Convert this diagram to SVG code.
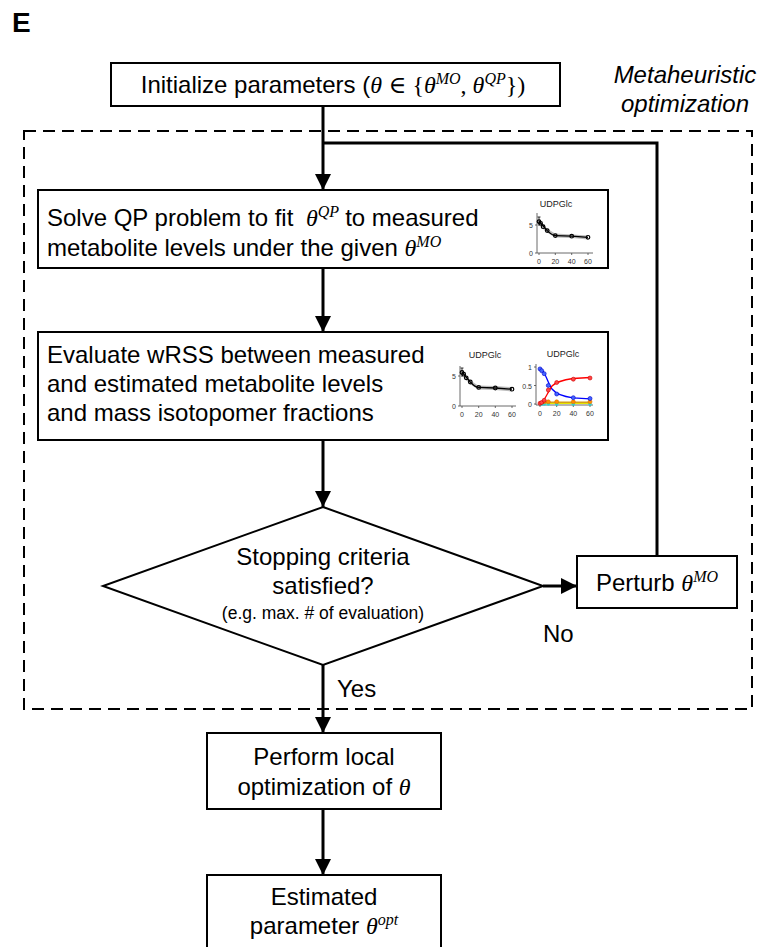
<svg xmlns="http://www.w3.org/2000/svg" width="776" height="947" viewBox="0 0 776 947">
<defs>
<marker id="ah" viewBox="0 0 16 16" refX="16" refY="8" markerWidth="16" markerHeight="16" markerUnits="userSpaceOnUse" orient="auto"><path d="M0,0 L16,8 L0,16 z" fill="#000"/></marker>
<style>
.box{fill:#fff;stroke:#000;stroke-width:2}
.t{font-family:"Liberation Sans",Arial,sans-serif;font-size:24px;fill:#000}
.small{font-size:17.5px}
.m{font-family:"Liberation Serif","DejaVu Serif",serif;font-style:italic}
.mu{font-family:"Liberation Serif","DejaVu Serif",serif}
.sup{font-size:16px}
.con{fill:none;stroke:#000;stroke-width:3}
.ax{fill:none;stroke:#444;stroke-width:0.8}
.tk{font-family:"Liberation Sans",Arial,sans-serif;font-size:7px;fill:#333}
.ttl{font-family:"Liberation Sans",Arial,sans-serif;font-size:9px;fill:#222;text-anchor:middle}
</style>
</defs>
<rect width="776" height="947" fill="#fff"/>
<text x="12" y="32" font-family="Liberation Sans,Arial,sans-serif" font-weight="bold" font-size="28">E</text>

<g id="metaheuristic-region">
<rect x="24" y="131" width="728" height="578" fill="none" stroke="#000" stroke-width="2" stroke-dasharray="12 7"/>
<text class="t" x="685" y="83" text-anchor="middle" font-style="italic">Metaheuristic</text>
<text class="t" x="685" y="112" text-anchor="middle" font-style="italic">optimization</text>
</g>

<g id="connectors">
<path class="con" d="M323,106 V190" marker-end="url(#ah)"/>
<path class="con" d="M323,268 V332" marker-end="url(#ah)"/>
<path class="con" d="M323,440 V507" marker-end="url(#ah)"/>
<path class="con" d="M543,586 H577" marker-end="url(#ah)"/>
<path class="con" d="M323,665 V733" marker-end="url(#ah)"/>
<path class="con" d="M323,809 V875" marker-end="url(#ah)"/>
<path class="con" d="M657,556 V143 H323"/>
<text class="t" x="543" y="642">No</text>
<text class="t" x="337" y="697">Yes</text>
</g>

<g id="init">
<rect class="box" x="111" y="63" width="449" height="43"/>
<text class="t" x="333" y="93" text-anchor="middle">Initialize parameters (<tspan class="m">θ</tspan> <tspan class="mu">∈ {</tspan><tspan class="m">θ</tspan><tspan class="m sup" dy="-9">MO</tspan><tspan class="mu" dy="9">, </tspan><tspan class="m">θ</tspan><tspan class="m sup" dy="-9">QP</tspan><tspan class="mu" dy="9">})</tspan></text>
</g>

<g id="solve-qp">
<rect class="box" x="38" y="190" width="570" height="78"/>
<text class="t" x="47" y="226">Solve QP problem to fit <tspan class="m" dx="6">θ</tspan><tspan class="m sup" dy="-9">QP</tspan><tspan dy="9" dx="6">to measured</tspan></text>
<text class="t" x="47" y="256">metabolite levels under the given <tspan class="m">θ</tspan><tspan class="m sup" dy="-9">MO</tspan></text>
<g id="plotA">
<text class="ttl" x="556" y="207">UDPGlc</text>
<path class="ax" d="M537,213 V253 H593 M535,225 H537 M535,253 H537 M539,253 v2 M555.3,253 v2 M571.7,253 v2 M588,253 v2"/>
<text class="tk" x="533" y="228" text-anchor="end">5</text>
<text class="tk" x="533" y="256" text-anchor="end">0</text>
<g class="tk" text-anchor="middle"><text x="539" y="264">0</text><text x="555.3" y="264">20</text><text x="571.7" y="264">40</text><text x="588" y="264">60</text></g>
<path d="M539,219 L541,221 L543,224 L547,228.5 L555,233.5 L572,234.5 L588,235.5 L588,239.5 L572,238 L555,237.5 L547,232.5 L543,229 L541,225.5 L539,224 z" fill="#bbb"/>
<path d="M539,221.6 C541,223 544,227 547.2,230.6 C550,233.5 552,235.6 555.3,235.6 L571.7,236.2 L588,237.3" fill="none" stroke="#000" stroke-width="1.3"/>
<path d="M539,217 V226 M537.5,217 H540.5" stroke="#000" stroke-width="0.8"/>
<g fill="none" stroke="#000" stroke-width="1.2"><circle cx="539" cy="221.6" r="1.8"/><circle cx="540.6" cy="223.3" r="1.8"/><circle cx="543.1" cy="226.7" r="1.8"/><circle cx="547.2" cy="230.6" r="1.8"/><circle cx="555.3" cy="235.6" r="1.8"/><circle cx="571.7" cy="236.2" r="1.8"/><circle cx="588" cy="237.3" r="1.8"/></g>
</g>
</g>

<g id="evaluate-wrss">
<rect class="box" x="38" y="332" width="570" height="108"/>
<text class="t" x="47" y="363">Evaluate wRSS between measured</text>
<text class="t" x="47" y="392">and estimated metabolite levels</text>
<text class="t" x="47" y="421">and mass isotopomer fractions</text>
<g id="plotB1">
<text class="ttl" x="485" y="358">UDPGlc</text>
<path class="ax" d="M460,366 V406 H516 M458,376 H460 M458,406 H460 M462,406 v2 M478.7,406 v2 M495.3,406 v2 M512,406 v2"/>
<text class="tk" x="456" y="379" text-anchor="end">5</text>
<text class="tk" x="456" y="409" text-anchor="end">0</text>
<g class="tk" text-anchor="middle"><text x="462" y="417">0</text><text x="478.7" y="417">20</text><text x="495.3" y="417">40</text><text x="512" y="417">60</text></g>
<path d="M462,370 L464,372 L466,375.5 L470,380 L478,385.5 L495,386 L512,387 L512,391.5 L495,390 L478,389.5 L470,384 L466,380 L464,376.5 L462,375 z" fill="#bbb"/>
<path d="M462,372.4 C464,374 467,378 470.3,382 C473,385 475.5,387.4 478.7,387.4 L495.3,388 L512,389.2" fill="none" stroke="#000" stroke-width="1.3"/>
<path d="M462,368 V377 M460.5,368 H463.5" stroke="#000" stroke-width="0.8"/>
<g fill="none" stroke="#000" stroke-width="1.2"><circle cx="462" cy="372.4" r="1.8"/><circle cx="463.7" cy="374.2" r="1.8"/><circle cx="466.2" cy="377.8" r="1.8"/><circle cx="470.3" cy="382" r="1.8"/><circle cx="478.7" cy="387.4" r="1.8"/><circle cx="495.3" cy="388" r="1.8"/><circle cx="512" cy="389.2" r="1.8"/></g>
</g>
<g id="plotB2">
<text class="ttl" x="563" y="357">UDPGlc</text>
<path class="ax" d="M536,364 V405 H593 M534,367 H536 M534,385.5 H536 M534,404 H536 M540,405 v2 M556.7,405 v2 M573.3,405 v2 M590,405 v2"/>
<text class="tk" x="532" y="370" text-anchor="end">1</text>
<text class="tk" x="532" y="389" text-anchor="end">0.5</text>
<text class="tk" x="532" y="407" text-anchor="end">0</text>
<g class="tk" text-anchor="middle"><text x="540" y="416">0</text><text x="556.7" y="416">20</text><text x="573.3" y="416">40</text><text x="590" y="416">60</text></g>
<path d="M540,402.5 H590" stroke="#d4a017" stroke-width="2.2" fill="none"/>
<path d="M540,403.5 H590" stroke="#e6e600" stroke-width="1.2" fill="none"/>
<path d="M540,368 C545,370 547,382 552,389 C556,394 562,396.5 573,397.8 L590,398.8" fill="none" stroke="#0000ff" stroke-width="1.3"/>
<path d="M540,404 C545,401 547,393 552,386 C556,382 562,380 573,378.5 L590,377.5" fill="none" stroke="#ff0000" stroke-width="1.3"/>
<g fill="#22dddd"><circle cx="541.7" cy="404" r="1.8"/><circle cx="544.2" cy="404" r="1.8"/><circle cx="548.3" cy="404" r="1.8"/><circle cx="556.7" cy="404" r="1.8"/><circle cx="573.3" cy="404" r="1.8"/><circle cx="590" cy="404" r="1.8"/></g>
<g fill="#ff8c00" stroke="#e07000" stroke-width="0.6"><circle cx="544.2" cy="401.8" r="2"/><circle cx="548.3" cy="401.8" r="2"/><circle cx="556.7" cy="401.8" r="2"/><circle cx="573.3" cy="401.8" r="2"/><circle cx="590" cy="401.8" r="2"/></g>
<g fill="#4466ff" stroke="#0000cc" stroke-width="0.6"><circle cx="540" cy="368.9" r="2"/><circle cx="541.7" cy="370.7" r="2"/><circle cx="544.2" cy="373.7" r="2"/><circle cx="548.3" cy="385.5" r="2"/><circle cx="556.7" cy="394" r="2"/><circle cx="573.3" cy="397.7" r="2"/><circle cx="590" cy="398.5" r="2"/></g>
<g fill="#ff4444" stroke="#cc0000" stroke-width="0.6"><circle cx="540" cy="403.3" r="2"/><circle cx="541.7" cy="402.5" r="2"/><circle cx="544.2" cy="400.3" r="2"/><circle cx="548.3" cy="390" r="2"/><circle cx="556.7" cy="382.5" r="2"/><circle cx="573.3" cy="379.2" r="2"/><circle cx="590" cy="378" r="2"/></g>
</g>
</g>

<g id="stopping-criteria">
<polygon points="323,507 543,586 323,665 103,586" fill="#fff" stroke="#000" stroke-width="2"/>
<text class="t" x="323" y="565" text-anchor="middle">Stopping criteria</text>
<text class="t" x="323" y="594" text-anchor="middle">satisfied?</text>
<text class="t small" x="323" y="619" text-anchor="middle">(e.g. max. # of evaluation)</text>
</g>

<g id="perturb">
<rect class="box" x="577" y="556" width="160" height="52"/>
<text class="t" x="657" y="591" text-anchor="middle">Perturb <tspan class="m">θ</tspan><tspan class="m sup" dy="-9">MO</tspan></text>
</g>

<g id="local-opt">
<rect class="box" x="207" y="733" width="234" height="76"/>
<text class="t" x="324" y="765" text-anchor="middle">Perform local</text>
<text class="t" x="324" y="795" text-anchor="middle">optimization of <tspan class="m">θ</tspan></text>
</g>

<g id="estimated">
<rect class="box" x="207" y="875" width="234" height="90"/>
<text class="t" x="324" y="905" text-anchor="middle">Estimated</text>
<text class="t" x="324" y="934" text-anchor="middle">parameter <tspan class="m">θ</tspan><tspan class="m sup" dy="-9">opt</tspan></text>
</g>
</svg>
